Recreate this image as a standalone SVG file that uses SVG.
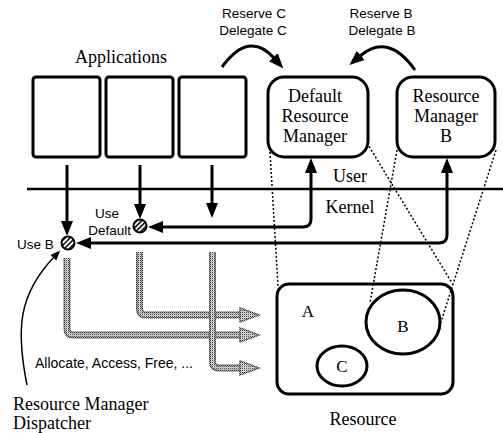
<svg xmlns="http://www.w3.org/2000/svg" width="503" height="433" viewBox="0 0 503 433">
  <style>
    .serif { font-family: "Liberation Serif", "Times New Roman", serif; font-size: 18px; fill: #000; }
    .sans { font-family: "Liberation Sans", Arial, sans-serif; font-size: 13.5px; fill: #000; }
    .box { fill: #fff; stroke: #000; stroke-width: 3; }
    .line { fill: none; stroke: #000; stroke-width: 3; }
    .dot { fill: none; stroke: #000; stroke-width: 1.5; stroke-dasharray: 2 2; }
    .pipe-out { fill: none; stroke: url(#halftone-dark); stroke-width: 7; }
    .pipe-in { fill: none; stroke: url(#halftone-light); stroke-width: 3.5; }
    .pipe-head { fill: url(#halftone-light); stroke: url(#halftone-dark); stroke-width: 1.5; }
    .disp { fill: url(#hatch); stroke: #000; stroke-width: 2; }
  </style>
  <defs>
    <marker id="arrow" markerUnits="userSpaceOnUse" viewBox="0 -7 16 14" refX="1" refY="0" markerWidth="16" markerHeight="14" orient="auto-start-reverse">
      <path d="M0,-6 L15,0 L0,6 z" fill="#000"/>
    </marker>
    <marker id="arrow-small" markerUnits="userSpaceOnUse" viewBox="0 -5 11 10" refX="1" refY="0" markerWidth="11" markerHeight="10" orient="auto">
      <path d="M0,-4 L10,0 L0,4 z" fill="#000"/>
    </marker>
    <pattern id="halftone-dark" width="2" height="2" patternUnits="userSpaceOnUse">
      <rect width="2" height="2" fill="#aaa"/>
      <rect width="1" height="1" fill="#333"/>
      <rect x="1" y="1" width="1" height="1" fill="#333"/>
    </pattern>
    <pattern id="halftone-light" width="2" height="2" patternUnits="userSpaceOnUse">
      <rect width="2" height="2" fill="#ccc"/>
      <rect width="1" height="1" fill="#555"/>
    </pattern>
    <pattern id="hatch" width="3.5" height="3.5" patternUnits="userSpaceOnUse" patternTransform="rotate(45)">
      <rect width="3.5" height="3.5" fill="#fff"/>
      <rect width="1.5" height="3.5" fill="#000"/>
    </pattern>
  </defs>

  <!-- user / kernel boundary -->
  <line x1="27" y1="189" x2="503" y2="189" stroke="#000" stroke-width="2.5"/>
  <text class="serif" x="350" y="182" text-anchor="middle">User</text>
  <text class="serif" x="350" y="213" text-anchor="middle">Kernel</text>

  <!-- applications -->
  <text class="serif" x="121" y="63" text-anchor="middle">Applications</text>
  <g id="app1"><rect class="box" x="33" y="77" width="67" height="80" rx="3"/></g>
  <g id="app2"><rect class="box" x="106" y="77" width="67" height="80" rx="3"/></g>
  <g id="app3"><rect class="box" x="179" y="77" width="67" height="80" rx="3"/></g>

  <!-- resource managers -->
  <g id="default-rm">
    <rect class="box" x="268" y="77" width="100" height="80" rx="16"/>
    <text class="serif" x="315" y="102" text-anchor="middle">Default</text>
    <text class="serif" x="315" y="122" text-anchor="middle">Resource</text>
    <text class="serif" x="315" y="142" text-anchor="middle">Manager</text>
  </g>
  <g id="rm-b">
    <rect class="box" x="397" y="77" width="98" height="80" rx="16"/>
    <text class="serif" x="446" y="102" text-anchor="middle">Resource</text>
    <text class="serif" x="446" y="122" text-anchor="middle">Manager</text>
    <text class="serif" x="446" y="142" text-anchor="middle">B</text>
  </g>

  <!-- resource -->
  <g id="resource">
    <rect class="box" x="277" y="284" width="176" height="110" rx="12"/>
    <text class="serif" x="308" y="317" text-anchor="middle" style="font-size:17px">A</text>
    <ellipse cx="403" cy="322" rx="37" ry="32" fill="none" stroke="#000" stroke-width="3"/>
    <text class="serif" x="403" y="332" text-anchor="middle" style="font-size:17px">B</text>
    <ellipse cx="342" cy="366" rx="25" ry="20" fill="none" stroke="#000" stroke-width="3"/>
    <text class="serif" x="342" y="372" text-anchor="middle" style="font-size:17px">C</text>
    <text class="serif" x="363" y="425" text-anchor="middle">Resource</text>
  </g>

  <!-- dispatcher points -->
  <g id="use-default">
    <circle class="disp" cx="140" cy="226" r="6.5"/>
    <text class="sans" x="107" y="218" text-anchor="middle">Use</text>
    <text class="sans" x="131" y="235" text-anchor="end">Default</text>
  </g>
  <g id="use-b">
    <circle class="disp" cx="68" cy="243" r="6.5"/>
    <text class="sans" x="17" y="249">Use B</text>
  </g>

  <!-- labels -->
  <text class="sans" x="254" y="18" text-anchor="middle">Reserve C</text>
  <text class="sans" x="253" y="35" text-anchor="middle">Delegate C</text>
  <text class="sans" x="381" y="18" text-anchor="middle">Reserve B</text>
  <text class="sans" x="382" y="35" text-anchor="middle">Delegate B</text>
  <text class="sans" x="35" y="368" style="font-size:14px">Allocate, Access, Free, ...</text>
  <text class="serif" x="13" y="410">Resource Manager</text>
  <text class="serif" x="13" y="429">Dispatcher</text>

  <g id="connectors">
    <!-- resource operation pipes -->
    <path class="pipe-out" d="M67,258 V329 Q67,335 73,335 H242"/>
    <path class="pipe-in" d="M67,258 V329 Q67,335 73,335 H242"/>
    <path class="pipe-out" d="M139.5,252 V309 Q139.5,315 146,315 H242"/>
    <path class="pipe-in" d="M139.5,252 V309 Q139.5,315 146,315 H242"/>
    <path class="pipe-out" d="M212.5,252 V362 Q212.5,368 219,368 H242"/>
    <path class="pipe-in" d="M212.5,252 V362 Q212.5,368 219,368 H242"/>
    <polygon class="pipe-head" points="240,308 259,315 240,322"/>
    <polygon class="pipe-head" points="240,328 259,335 240,342"/>
    <polygon class="pipe-head" points="240,361 259,368 240,375"/>

    <!-- application calls -->
    <path class="line" d="M67,165 V222" marker-end="url(#arrow)"/>
    <path class="line" d="M140,165 V205" marker-end="url(#arrow)"/>
    <path class="line" d="M212,165 V204" marker-end="url(#arrow)"/>

    <!-- manager bindings -->
    <path class="line" d="M162,227 H303 Q311,227 311,219 V172" marker-start="url(#arrow)" marker-end="url(#arrow)"/>
    <path class="line" d="M90,243 H439 Q447,243 447,235 V172" marker-start="url(#arrow)" marker-end="url(#arrow)"/>

    <!-- reserve / delegate -->
    <path class="line" d="M222,67 Q249,30 274,58" marker-end="url(#arrow)"/>
    <path class="line" d="M415,70 Q388,32 360,56" marker-end="url(#arrow)"/>

    <!-- dispatcher callout -->
    <path d="M27,385 C16,330 18,295 54,257" fill="none" stroke="#000" stroke-width="1.5" marker-end="url(#arrow-small)"/>

    <!-- manager to resource mapping -->
    <line class="dot" x1="270" y1="152" x2="278" y2="286"/>
    <line class="dot" x1="367" y1="143" x2="452" y2="283"/>
    <line class="dot" x1="397" y1="150" x2="370" y2="303"/>
    <line class="dot" x1="496" y1="150" x2="440" y2="325"/>
  </g>
</svg>
